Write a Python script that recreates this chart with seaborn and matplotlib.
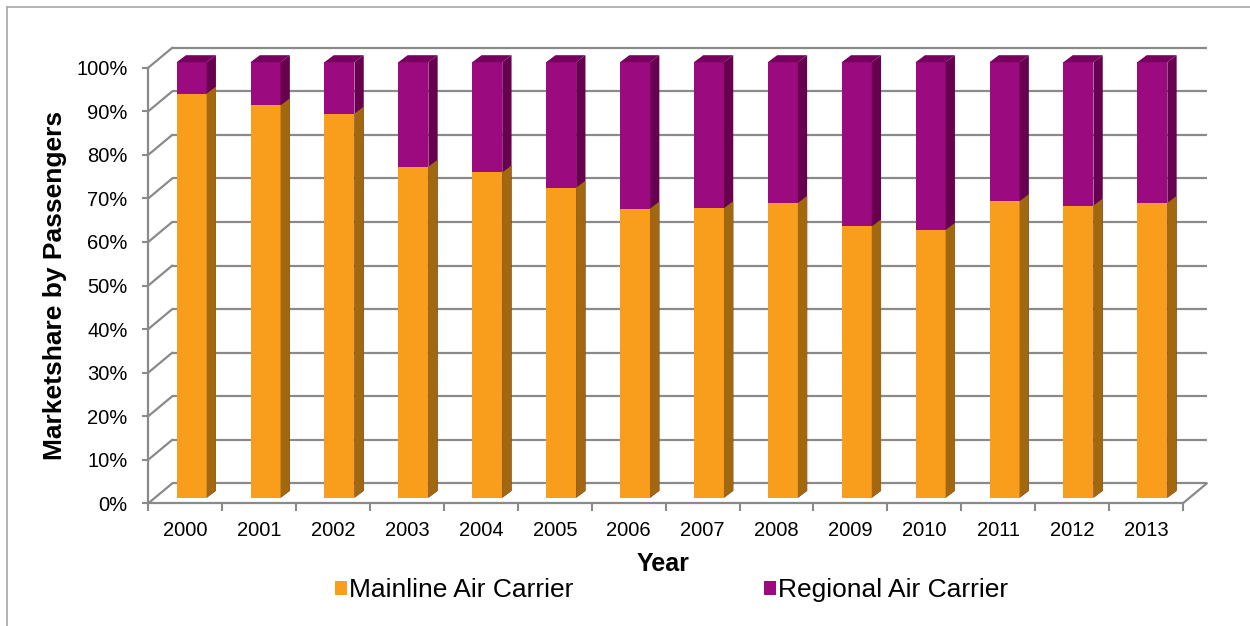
import matplotlib
matplotlib.use("Agg")
import matplotlib.pyplot as plt
import seaborn as sns
from matplotlib.patches import Polygon, Patch
from matplotlib.lines import Line2D
from matplotlib.transforms import ScaledTranslation

# ---------------- data ----------------
years = ["2000", "2001", "2002", "2003", "2004", "2005", "2006",
         "2007", "2008", "2009", "2010", "2011", "2012", "2013"]
mainline = [92.8, 90.1, 88.2, 76.0, 74.7, 71.2, 66.4,
            66.5, 67.7, 62.3, 61.5, 68.1, 67.1, 67.7]
regional = [7.2, 9.9, 11.8, 24.0, 25.3, 28.8, 33.6,
            33.5, 32.3, 37.7, 38.5, 31.9, 32.9, 32.3]
y_ticks = [0, 10, 20, 30, 40, 50, 60, 70, 80, 90, 100]
y_tick_labels = ["0%", "10%", "20%", "30%", "40%", "50%", "60%",
                 "70%", "80%", "90%", "100%"]
series_names = ["Mainline Air Carrier", "Regional Air Carrier"]

# ---------------- styles ----------------
ORANGE = "#F99E1C"
ORANGE_SIDE = "#A2680F"
PURPLE = "#9B0A7E"
PURPLE_SIDE = "#66004F"
PURPLE_TOP = "#77005F"
GRID = "#8A8A8A"

sns.set_theme(style="white")
plt.rcParams["font.family"] = ["Liberation Sans", "DejaVu Sans"]
plt.rcParams["text.color"] = "black"

W, H = 1250, 626
fig = plt.figure(figsize=(W / 100, H / 100), dpi=100)
fig.patch.set_facecolor("white")

x_left, x_right, y0_px, y100_px = 148.3, 1182.9, 503.3, 67.7
ax = fig.add_axes([x_left / W, (H - y0_px) / H,
                   (x_right - x_left) / W, (y0_px - y100_px) / H])
ax.set_facecolor("none")

totals = [m + r for m, r in zip(mainline, regional)]
sns.barplot(x=years, y=totals, color=PURPLE, saturation=1, width=0.406,
            linewidth=0, errorbar=None, ax=ax)
n_p = len(ax.patches)
sns.barplot(x=years, y=mainline, color=ORANGE, saturation=1, width=0.406,
            linewidth=0, errorbar=None, ax=ax)
purple_bars = list(ax.patches[:n_p])
orange_bars = list(ax.patches[n_p:])

n = len(years)
px_x = (x_right - x_left) / n
px_y = (y0_px - y100_px) / 100.0
shift = ScaledTranslation(6.4 / 100, 5.5 / 100, fig.dpi_scale_trans)
tr = ax.transData + shift
ddx, ddy = 9.3 / px_x, 7.0 / px_y


def add_faces(rect, side_color, top_color, z):
    x0, yb = rect.get_x(), rect.get_y()
    x1, yt = x0 + rect.get_width(), yb + rect.get_height()
    side = Polygon([(x1, yb), (x1 + ddx, yb + ddy), (x1 + ddx, yt + ddy), (x1, yt)],
                   closed=True, fc=side_color, ec="none", zorder=z)
    side.set_transform(tr)
    ax.add_patch(side)
    side.set_clip_on(False)
    if top_color is not None:
        top = Polygon([(x0, yt), (x0 + ddx, yt + ddy), (x1 + ddx, yt + ddy), (x1, yt)],
                      closed=True, fc=top_color, ec="none", zorder=z)
        top.set_transform(tr)
        ax.add_patch(top)
        top.set_clip_on(False)


for r in purple_bars:
    r.set_transform(tr)
    r.set_zorder(2)
    r.set_clip_on(False)
    add_faces(r, PURPLE_SIDE, PURPLE_TOP, 2.05)
for r in orange_bars:
    r.set_transform(tr)
    r.set_zorder(2.1)
    r.set_clip_on(False)
    add_faces(r, ORANGE_SIDE, None, 2.15)

# 3D-look walls / grid
Dx, Dy = 24 / px_x, 20 / px_y
xa, xb = -0.5, n - 0.5
for v in y_ticks:
    ax.plot([xa + Dx, xb + Dx], [v + Dy, v + Dy], color=GRID, lw=1.6,
            clip_on=False, zorder=0.5, solid_capstyle="butt")
    ax.plot([xa, xa + Dx], [v, v + Dy], color=GRID, lw=1.6,
            clip_on=False, zorder=0.5)
ax.plot([xb, xb + Dx], [0, Dy], color=GRID, lw=1.6, clip_on=False, zorder=0.5)

ax.set_xlim(xa, xb)
ax.set_ylim(0, 100)

for s in ["top", "right"]:
    ax.spines[s].set_visible(False)
for s in ["left", "bottom"]:
    ax.spines[s].set_color(GRID)
    ax.spines[s].set_linewidth(1.6)

ax.set_yticks(y_ticks)
ax.set_yticklabels(y_tick_labels)
ax.tick_params(axis="y", left=True, length=4, width=1.5, color=GRID, pad=11,
               labelsize=14.5, labelcolor="black", direction="out")
ax.set_xticks(range(n))
ax.set_xticklabels(years)
ax.set_xticks([i - 0.5 for i in range(n + 1)], minor=True)
ax.tick_params(axis="x", which="major", length=0, pad=12.5, labelsize=14.5,
               labelcolor="black")
ax.tick_params(axis="x", which="minor", bottom=True, length=6, width=1.5,
               color=GRID, direction="out")

ax.set_ylabel("Marketshare by Passengers", fontsize=19, fontweight="bold",
              color="black")
ax.yaxis.set_label_coords(-0.0786, 0.501)
ax.set_xlabel("Year", fontsize=18, fontweight="bold", color="black")
ax.xaxis.set_label_coords(0.4975, -0.111)

handles = [Patch(facecolor=ORANGE, edgecolor="none"),
           Patch(facecolor=PURPLE, edgecolor="none")]
fig.legend(handles, series_names, ncol=2, loc="center",
           bbox_to_anchor=(671.5 / W, (H - 590) / H), frameon=False,
           fontsize=19, handlelength=0.45, handleheight=0.45,
           handletextpad=0.1, columnspacing=7.2, borderpad=0,
           borderaxespad=0, labelcolor="black")

# outer chart-area border (top and left visible in the reference)
fig.add_artist(Line2D([7 / W, 7 / W], [0, (H - 7) / H], transform=fig.transFigure,
                      color="#A6A6A6", lw=1.2))
fig.add_artist(Line2D([7 / W, 1], [(H - 7) / H, (H - 7) / H],
                      transform=fig.transFigure, color="#A6A6A6", lw=1.2))

fig.savefig("out.png", dpi=100)
